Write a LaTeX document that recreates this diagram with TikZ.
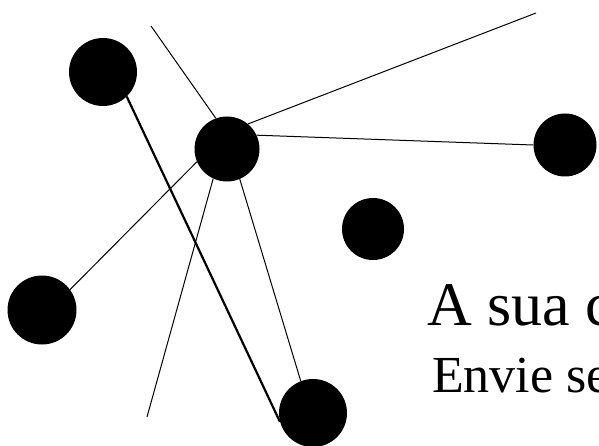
\documentclass[tikz,border=0pt]{standalone}
\usepackage{fontspec}
\setmainfont{Liberation Serif}
\usetikzlibrary{positioning}

\tikzset{
    dot/.style={circle, fill=black, draw=none, inner sep=0pt},
    link/.style={draw=black, line width=1pt},
    heavylink/.style={draw=black, line width=2.2pt},
    bigtext/.style={anchor=base west, inner sep=0pt}
}

\begin{document}
\begin{tikzpicture}[x=1pt, y=-1pt]
    \path[clip] (0,0) rectangle (599,446);
    \fill[white] (0,0) rectangle (599,446);
    % the dots
    \node[dot, minimum size=68pt] (tl) at (103,72) {};
    \node[dot, minimum size=65pt] (hub) at (227,149) {};
    \node[dot, minimum size=63pt] (rt) at (565,145) {};
    \node[dot, minimum size=62pt] (mid) at (373,229) {};
    \node[dot, minimum size=69pt] (lf) at (42,310) {};
    \node[dot, minimum size=68pt] (bt) at (313,413) {};
    % loose ends
    \coordinate (topend) at (151,26);
    \coordinate (rightend) at (536,13);
    \coordinate (lowend) at (147,417);
    % connectors
    \draw[link] (topend) -- (hub.110);
    \draw[link] (hub.50) -- (rightend);
    \draw[link] (hub.25) -- (rt.west);
    \draw[link] (hub.203) -- (lf.36);
    \draw[link] (hub.245) -- (lowend);
    \draw[link] (hub.293) -- (bt.111);
    \draw[heavylink] (tl.314) -- (bt.195);
    % text
    \node[bigtext, font=\fontsize{62}{74}\selectfont] (title) at (427,325) {A sua c};
    \node[bigtext, font=\fontsize{52}{62}\selectfont] (subtitle) at (432,392) {Envie se};
\end{tikzpicture}
\end{document}
